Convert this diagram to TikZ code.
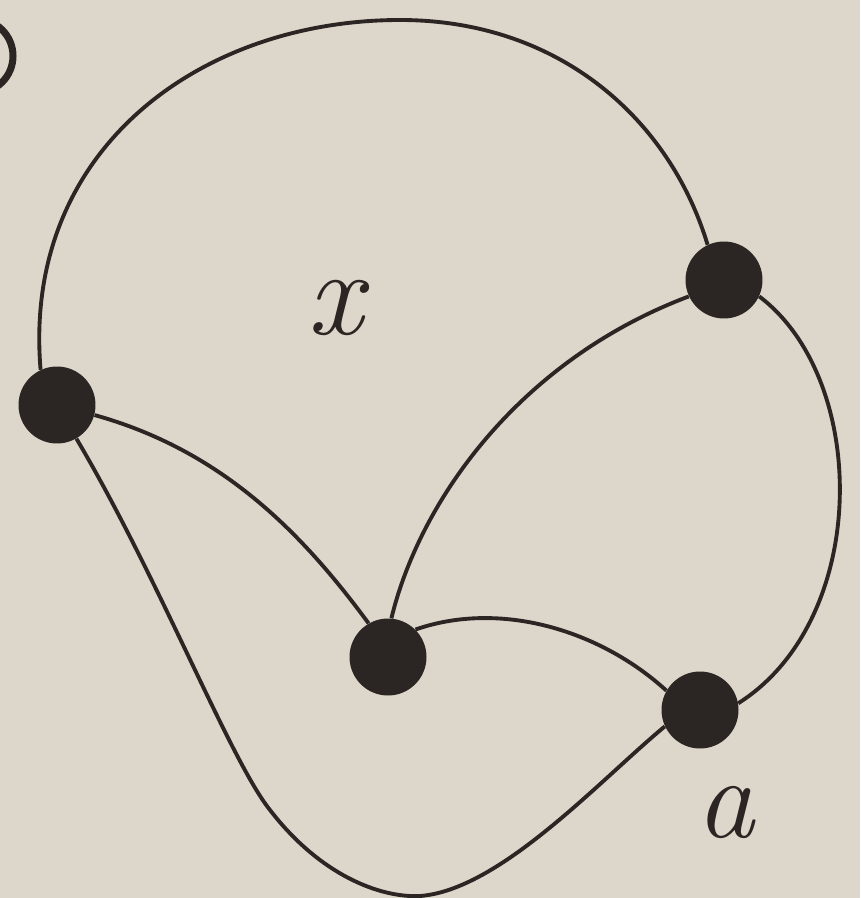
\documentclass[tikz,border=0pt]{standalone}
\definecolor{paper}{HTML}{DDD6CB}
\definecolor{ink}{HTML}{2B2623}
\begin{document}
\begin{tikzpicture}[x=0.02cm,y=-0.02cm,
  vert/.style={circle,fill=ink,draw=none,minimum size=1.54cm,inner sep=0pt},
  edge/.style={draw=ink,line width=2.2pt},
  lab/.style={text=ink,inner sep=0pt}]
\fill[paper] (0,0) rectangle (860,898);
\useasboundingbox (0,0) rectangle (860,898);
\begin{scope}
\clip (0,0) rectangle (860,898);
\draw[ink,line width=4pt] (-24,56) circle[radius=37*0.02cm];
\end{scope}
\node[vert] (A) at (57,405) {};
\node[vert] (B) at (724,280) {};
\node[vert] (C) at (388,657) {};
\node[vert] (D) at (700,710) {};
\coordinate (T) at (400,20);
\coordinate (L1) at (270,810);
\coordinate (L2) at (420,896);
\draw[edge] (A.115) .. controls (22,150) and (200,20) .. (T) .. controls (560,20) and (670,120) .. (B.115);
\draw[edge] (A.-15) .. controls (220,450) and (300,530) .. (C.120);
\draw[edge] (A.-60) .. controls (160,580) and (230,760) .. (L1) .. controls (320,875) and (380,898) .. (L2) .. controls (500,890) and (600,780) .. (D.205);
\draw[edge] (B.205) .. controls (520,360) and (420,500) .. (C.85);
\draw[edge] (B.-25) .. controls (870,380) and (870,620) .. (D.10);
\draw[edge] (C.45) .. controls (500,600) and (600,630) .. (D.150);
\node[lab,font=\fontsize{70}{70}\selectfont\itshape] (x) at (335,308) {x};
\node[lab,font=\fontsize{66}{66}\selectfont\itshape] (a) at (725,812) {a};
\end{tikzpicture}
\end{document}
